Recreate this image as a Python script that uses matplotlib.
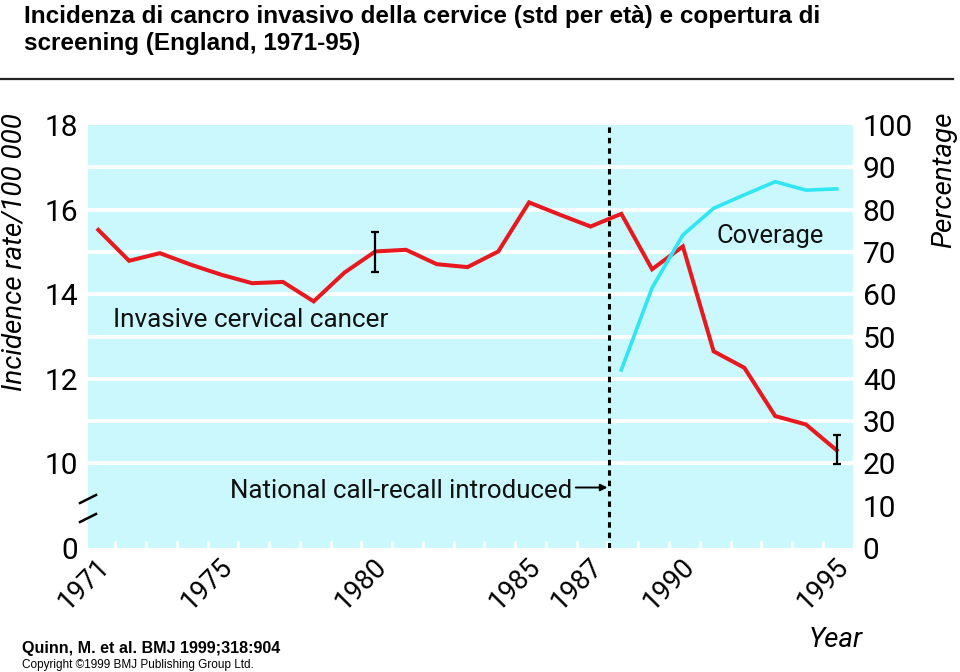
import numpy as np
import matplotlib
matplotlib.use("Agg")
import matplotlib.pyplot as plt
from matplotlib.lines import Line2D

# data
years = np.arange(1971, 1996)
incidence = [15.52, 14.79, 14.97, 14.70, 14.46, 14.26, 14.29, 13.83, 14.51, 15.01,
             15.05, 14.71, 14.64, 15.01, 16.17, 15.88, 15.60, 15.90, 14.59, 15.13,
             12.65, 12.26, 11.12, 10.92, 10.31]
cov_years = np.arange(1988, 1996)
coverage = [42.1, 61.5, 74.0, 80.3, 83.5, 86.6, 84.6, 84.9]
err_years = [1980, 1995]
err_vals = [15.0, 10.33]
err_half = [0.48, 0.34]
callrecall_year = 1987.6

left_ticks = [18, 16, 14, 12, 10, 8]          # 8 is the broken-axis "0"
left_labels = ["18", "16", "14", "12", "10", "0"]
right_ticks = list(range(0, 101, 10))
year_labels = [1971, 1975, 1980, 1985, 1987, 1990, 1995]

title = ("Incidenza di cancro invasivo della cervice (std per età) e copertura di\n"
         "screening (England, 1971-95)")

W, H = 960, 672
NARROW = ["Liberation Sans Narrow", "Roboto", "DejaVu Sans"]
SANS = ["Liberation Sans", "DejaVu Sans"]
BG = "#cbf8fc"
RED = "#e8191e"
CYAN = "#2fe6f2"


def fx(px):
    return px / W


def fy(py):
    return 1 - py / H


fig = plt.figure(figsize=(W / 100, H / 100), dpi=100)
fig.patch.set_facecolor("white")

ax = fig.add_axes([fx(88), fy(548), (853 - 88) / W, (548 - 125) / H])
ax.set_facecolor(BG)
ax.set_xlim(1970.665, 1995.53)
ax.set_ylim(8, 18)
for s in ax.spines.values():
    s.set_visible(False)

# white horizontal grid
for g in range(10, 18):
    ax.axhline(g, color="white", lw=2.8, zorder=1)

# little white ticks along the bottom edge
ax.set_xticks(np.arange(1971, 1995) + 0.55, minor=True)
ax.set_xticks([])
ax.tick_params(axis="x", which="minor", direction="in", color="white",
               length=5, width=2, bottom=True, labelbottom=False)

ax.set_yticks(left_ticks, left_labels)
ax.tick_params(axis="y", length=0, pad=7, labelsize=21.5)
for t in ax.get_yticklabels():
    t.set_family(NARROW)

ax.plot(years, incidence, color=RED, lw=2.9, zorder=3, solid_joinstyle="miter")
ax.errorbar(err_years, err_vals, yerr=err_half, fmt="none", ecolor="black",
            elinewidth=1.6, capsize=3, capthick=1.6, zorder=4)
ax.axvline(callrecall_year, color="black", lw=2.2, ls=(0, (1.8, 1.6)), zorder=2)

ax2 = ax.twinx()
ax2.set_ylim(0, 100)
for s in ax2.spines.values():
    s.set_visible(False)
ax2.plot(cov_years, coverage, color=CYAN, lw=2.6, zorder=3)
ax2.set_yticks(right_ticks)
ax2.tick_params(axis="y", length=0, pad=7, labelsize=21.5)
for t in ax2.get_yticklabels():
    t.set_family(NARROW)

# rotated year labels
for yr in year_labels:
    ax.text(yr + 0.55, -0.012, str(yr), transform=ax.get_xaxis_transform(),
            rotation=45, ha="right", va="top", fontsize=19.5, family=NARROW)

# in-plot annotations
fig.text(fx(113), fy(327), "Invasive cervical cancer", fontsize=18.8,
         family=NARROW, color="#111111", va="baseline")
fig.text(fx(717), fy(243), "Coverage", fontsize=18.4, family=NARROW,
         color="#111111", va="baseline")
fig.text(fx(230), fy(498), "National call-recall introduced", fontsize=18.6,
         family=NARROW, color="#111111", va="baseline")
ax.annotate("", xy=(callrecall_year - 0.05, 9.43), xytext=(1986.52, 9.43),
            arrowprops=dict(arrowstyle="-|>", color="black", lw=1.4,
                            mutation_scale=10, shrinkA=0, shrinkB=0))

# axis titles
fig.text(fx(15), fy(252), "Incidence rate/100 000", rotation=90, fontsize=20,
         style="italic", family=NARROW, ha="center", va="center")
fig.text(fx(944), fy(180), "Percentage", rotation=90, fontsize=20,
         style="italic", family=NARROW, ha="center", va="center")
fig.text(fx(836), fy(640), "Year", fontsize=20, style="italic",
         family=NARROW, ha="center", va="center")

# axis-break slashes
for y0 in (503, 522):
    fig.add_artist(Line2D([fx(80), fx(96)], [fy(y0), fy(y0 - 8)],
                          color="black", lw=1.8))

# header and footer
fig.text(fx(24), fy(5), title, fontsize=17.5, fontweight="bold",
         family=SANS, va="top", ha="left", linespacing=1.22)
fig.add_artist(Line2D([0, fx(953)], [fy(79), fy(79)], color="#222222", lw=1.6))
fig.text(fx(22), fy(653), "Quinn, M. et al. BMJ 1999;318:904", fontsize=11.6,
         fontweight="bold", family=SANS, va="baseline")
fig.text(fx(22), fy(668), "Copyright ©1999 BMJ Publishing Group Ltd.",
         fontsize=8.5, family=SANS, va="baseline")

fig.savefig("out.png", dpi=100)
